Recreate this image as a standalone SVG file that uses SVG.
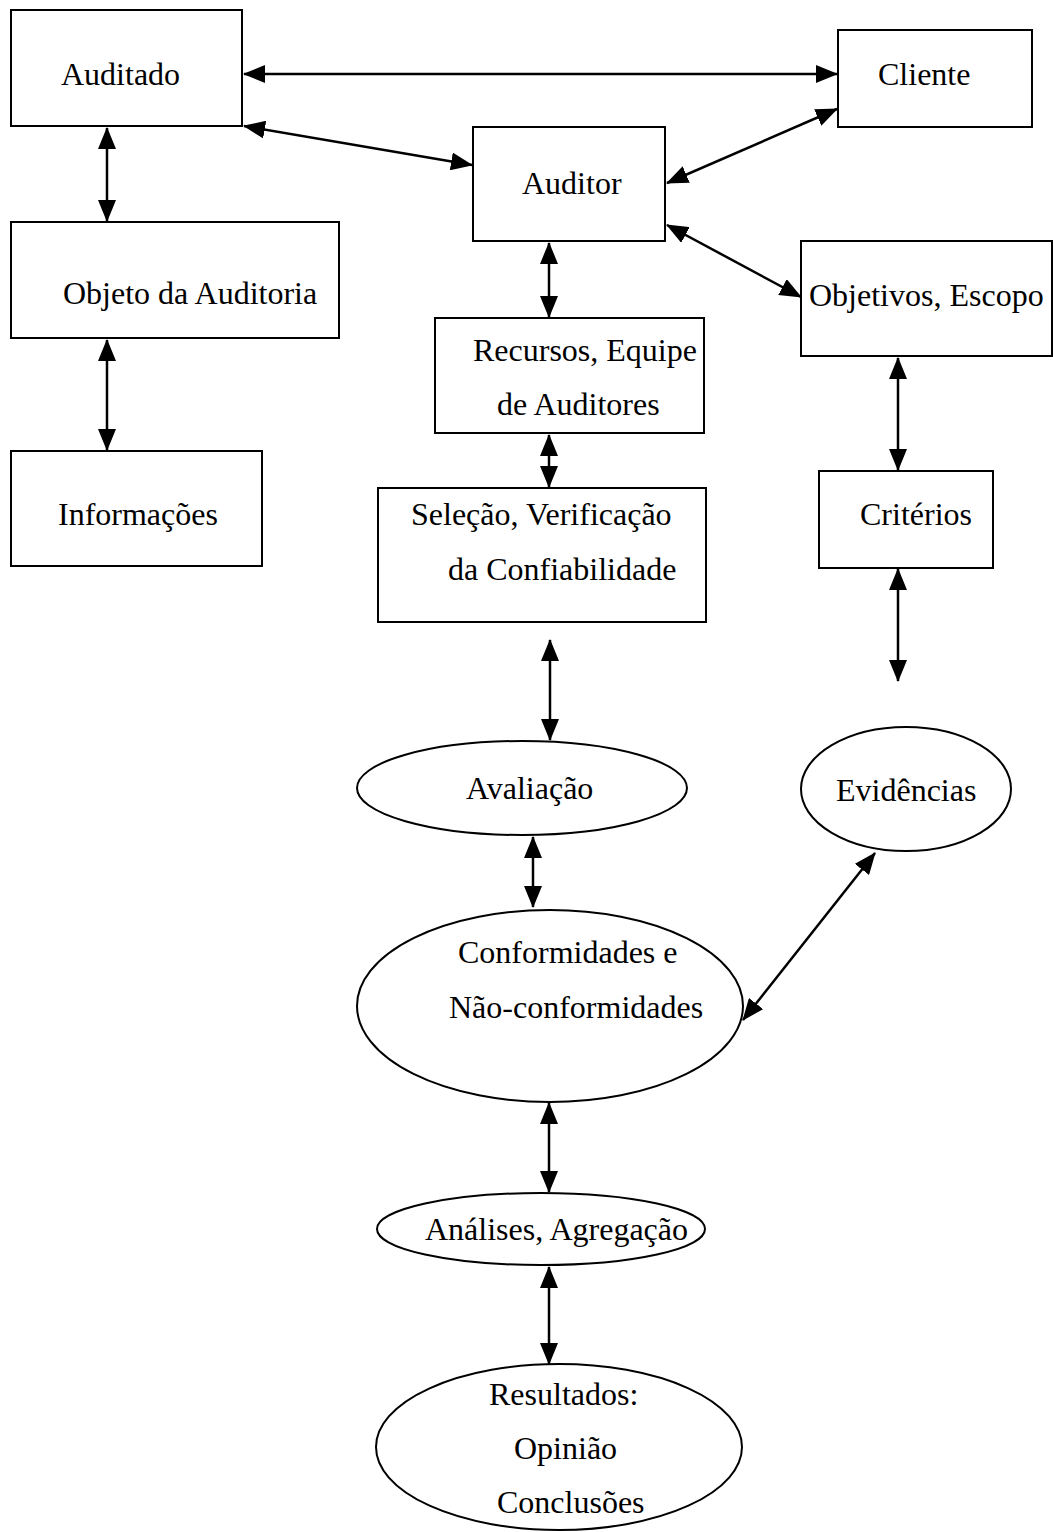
<svg xmlns="http://www.w3.org/2000/svg" width="1053" height="1532" viewBox="0 0 1053 1532">
<style>
.n{fill:#fff;stroke:#000;stroke-width:2}
.t{font-family:"Liberation Serif","Times New Roman",serif;font-size:32px;fill:#000}
.c{stroke:#000;stroke-width:2.5;fill:none;marker-start:url(#ah);marker-end:url(#ah)}
</style>
<defs>
<marker id="ah" markerUnits="userSpaceOnUse" markerWidth="22" markerHeight="18" viewBox="0 0 22 18" refX="21" refY="9" orient="auto-start-reverse">
<path d="M0,0 L22,9 L0,18 Z" fill="#000"/>
</marker>
</defs>
<rect width="1053" height="1532" fill="#fff"/>
<g id="auditado"><rect class="n" x="11" y="10" width="231" height="116"/><text class="t" x="61" y="85">Auditado</text></g>
<g id="cliente"><rect class="n" x="838" y="30" width="194" height="97"/><text class="t" x="878" y="85">Cliente</text></g>
<g id="auditor"><rect class="n" x="473" y="127" width="192" height="114"/><text class="t" x="522" y="194">Auditor</text></g>
<g id="objeto"><rect class="n" x="11" y="222" width="328" height="116"/><text class="t" x="63" y="304">Objeto da Auditoria</text></g>
<g id="informacoes"><rect class="n" x="11" y="451" width="251" height="115"/><text class="t" x="58" y="525">Informações</text></g>
<g id="objetivos"><rect class="n" x="801" y="241" width="251" height="115"/><text class="t" x="809" y="306">Objetivos, Escopo</text></g>
<g id="recursos"><rect class="n" x="435" y="318" width="269" height="115"/><text class="t" x="473" y="361">Recursos, Equipe</text><text class="t" x="497" y="415">de Auditores</text></g>
<g id="selecao"><rect class="n" x="378" y="488" width="328" height="134"/><text class="t" x="411" y="525">Seleção, Verificação</text><text class="t" x="448" y="580">da Confiabilidade</text></g>
<g id="criterios"><rect class="n" x="819" y="471" width="174" height="97"/><text class="t" x="860" y="525">Critérios</text></g>
<g id="avaliacao"><ellipse class="n" cx="522" cy="788" rx="165" ry="47"/><text class="t" x="466" y="799">Avaliação</text></g>
<g id="evidencias"><ellipse class="n" cx="906" cy="789" rx="105" ry="62"/><text class="t" x="836" y="801">Evidências</text></g>
<g id="conformidades"><ellipse class="n" cx="550" cy="1006" rx="193" ry="96"/><text class="t" x="458" y="963">Conformidades e</text><text class="t" x="449" y="1018">Não-conformidades</text></g>
<g id="analises"><ellipse class="n" cx="541" cy="1229" rx="164" ry="36"/><text class="t" x="425" y="1240">Análises, Agregação</text></g>
<g id="resultados"><ellipse class="n" cx="559" cy="1447" rx="183" ry="83"/><text class="t" x="489" y="1405">Resultados:</text><text class="t" x="514" y="1459">Opinião</text><text class="t" x="497" y="1513">Conclusões</text></g>
<g id="connectors">
<line class="c" x1="244" y1="74" x2="837" y2="74"/>
<line class="c" x1="244" y1="126" x2="472" y2="165"/>
<line class="c" x1="667" y1="183" x2="837" y2="109"/>
<line class="c" x1="667" y1="225" x2="801" y2="297"/>
<line class="c" x1="107" y1="128" x2="107" y2="221"/>
<line class="c" x1="107" y1="340" x2="107" y2="450"/>
<line class="c" x1="549" y1="243" x2="549" y2="317"/>
<line class="c" x1="549" y1="435" x2="549" y2="487"/>
<line class="c" x1="550" y1="640" x2="550" y2="740"/>
<line class="c" x1="533" y1="837" x2="533" y2="907"/>
<line class="c" x1="743" y1="1020" x2="875" y2="853"/>
<line class="c" x1="549" y1="1103" x2="549" y2="1192"/>
<line class="c" x1="549" y1="1267" x2="549" y2="1364"/>
<line class="c" x1="898" y1="358" x2="898" y2="470"/>
<line class="c" x1="898" y1="569" x2="898" y2="681"/>
</g>
</svg>
